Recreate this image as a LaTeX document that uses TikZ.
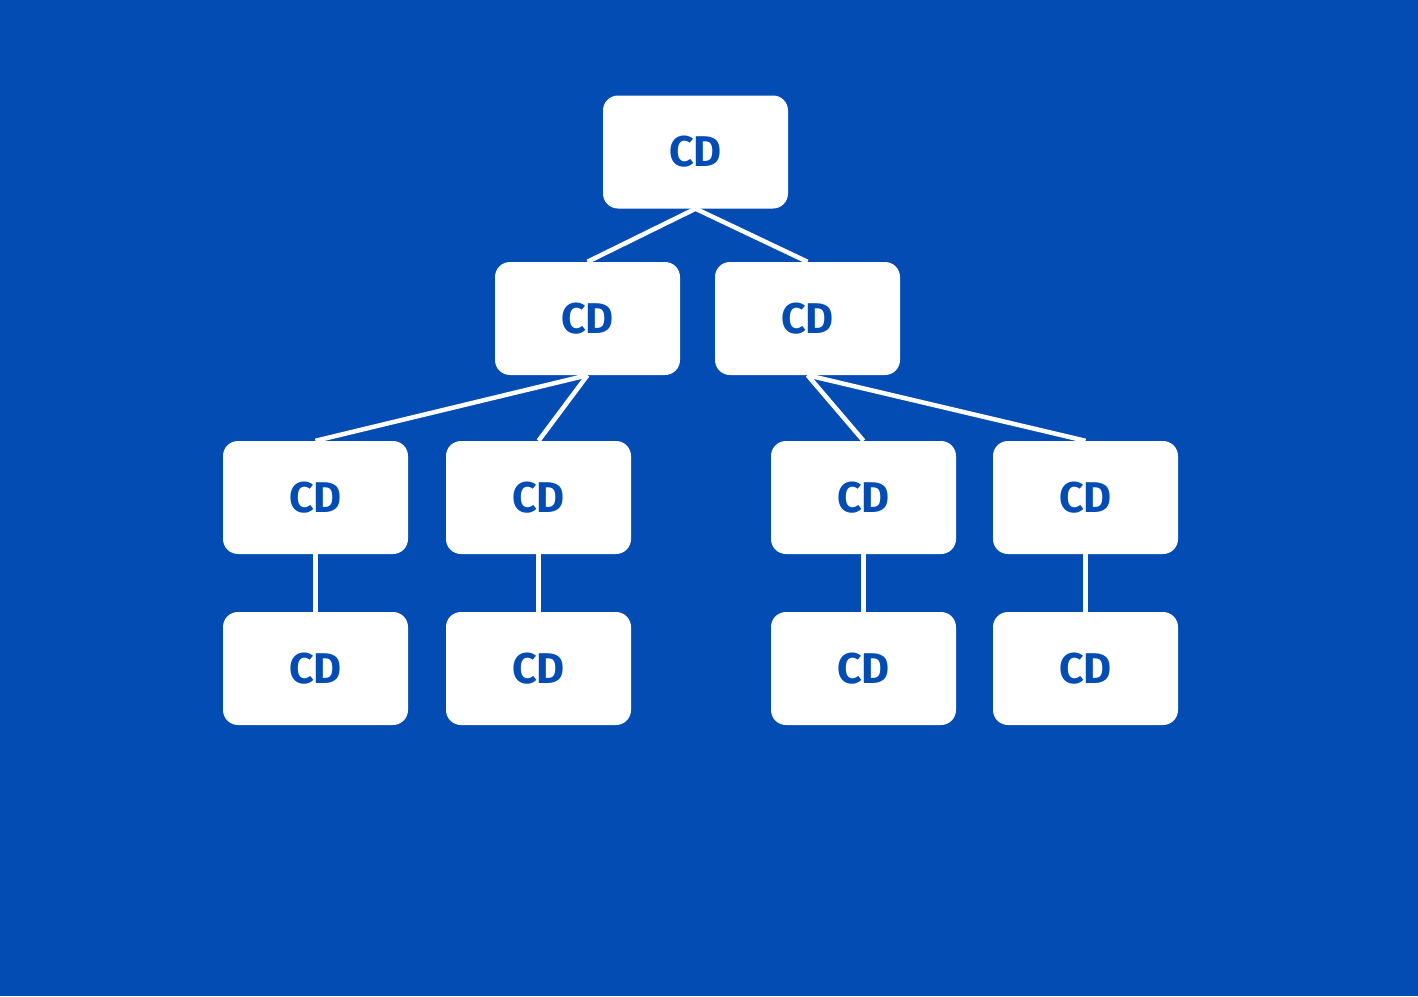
\documentclass[tikz,border=0pt]{standalone}
\usepackage{fontspec}
\setmainfont{Fira Sans}
\definecolor{bgblue}{HTML}{034CB3}
\begin{document}
\begin{tikzpicture}[x=1pt,y=-1pt,
  box/.style={fill=white, rounded corners=15pt, minimum width=185pt, minimum height=113pt, inner sep=0pt,
    text=bgblue, font=\fontsize{43}{43}\selectfont\bfseries},
  lbl/.style={yshift=-2pt},
  link/.style={draw=white, line width=4.5pt}]
\fill[bgblue] (0,0) rectangle (1418,996);
\useasboundingbox (0,0) rectangle (1418,996);
\node[box] (r) at (695.5,152) {\raisebox{-2pt}{CD}};
\node[box] (a) at (587.5,318.5) {\raisebox{-2pt}{CD}};
\node[box] (b) at (807.5,318.5) {\raisebox{-2pt}{CD}};
\node[box] (a1) at (315.5,497.5) {\raisebox{-2pt}{CD}};
\node[box] (a2) at (538.5,497.5) {\raisebox{-2pt}{CD}};
\node[box] (b1) at (863.5,497.5) {\raisebox{-2pt}{CD}};
\node[box] (b2) at (1085.5,497.5) {\raisebox{-2pt}{CD}};
\node[box] (a1c) at (315.5,668.5) {\raisebox{-2pt}{CD}};
\node[box] (a2c) at (538.5,668.5) {\raisebox{-2pt}{CD}};
\node[box] (b1c) at (863.5,668.5) {\raisebox{-2pt}{CD}};
\node[box] (b2c) at (1085.5,668.5) {\raisebox{-2pt}{CD}};
\draw[link] (r.south) -- (a.north);
\draw[link] (r.south) -- (b.north);
\draw[link] (a.south) -- (a1.north);
\draw[link] (a.south) -- (a2.north);
\draw[link] (b.south) -- (b1.north);
\draw[link] (b.south) -- (b2.north);
\draw[link] (a1.south) -- (a1c.north);
\draw[link] (a2.south) -- (a2c.north);
\draw[link] (b1.south) -- (b1c.north);
\draw[link] (b2.south) -- (b2c.north);
\end{tikzpicture}
\end{document}
